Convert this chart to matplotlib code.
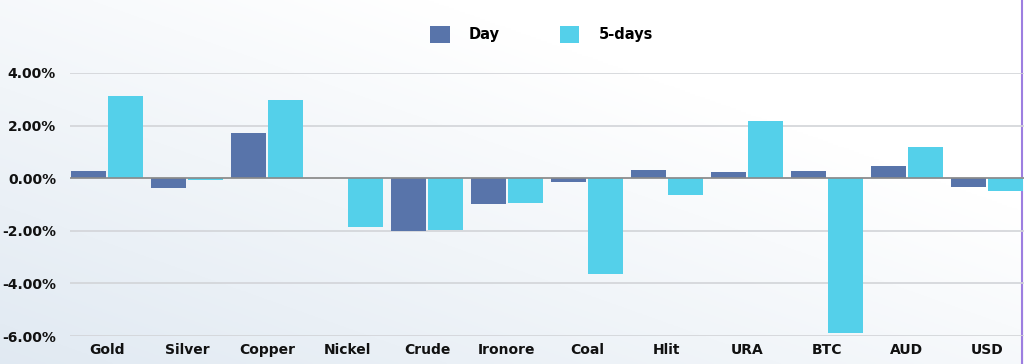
import numpy as np
import matplotlib.pyplot as plt
from matplotlib.ticker import FuncFormatter
from matplotlib.lines import Line2D

categories = ["Gold", "Silver", "Copper", "Nickel", "Crude", "Ironore",
              "Coal", "Hlit", "URA", "BTC", "AUD", "USD"]
day = [0.28, -0.38, 1.70, 0.0, -1.99, -0.98, -0.15, 0.33, 0.23, 0.27, 0.46, -0.33]
five_days = [3.14, -0.08, 2.98, -1.84, -1.97, -0.96, -3.63, -0.65, 2.17, -5.89, 1.20, -0.48]

day_color = "#5874aa"
five_color = "#54d0ea"
font = "DejaVu Sans"

fig = plt.figure(figsize=(10.24, 3.64), dpi=100)

# soft gradient background (bluish bottom-left -> white top-right)
bg = fig.add_axes([0, 0, 1, 1], zorder=-10)
yy, xx = np.mgrid[0:1:200j, 0:1:400j]
t = np.clip((1 - yy) * 0.6 + (1 - xx) * 0.6 - 0.35, 0, 1)
c0 = np.array([1.0, 1.0, 1.0])
c1 = np.array([0.86, 0.90, 0.94])
img = c0 + (c1 - c0) * t[..., None]
bg.imshow(img, extent=[0, 1, 0, 1], aspect="auto", origin="lower")
bg.axis("off")

# purple edge on the right
bg.add_line(Line2D([0.9985, 0.9985], [0, 1], color="#9d7ee0", lw=1.5,
                   transform=bg.transAxes))

ax = fig.add_axes([70 / 1024, 28 / 364, 954 / 1024, 263 / 364])
ax.patch.set_alpha(0)

x = np.arange(len(categories))
w = 0.4375
ax.bar(x - 0.232, day, width=w, color=day_color, label="Day", zorder=3)
ax.bar(x + 0.232, five_days, width=w, color=five_color, label="5-days", zorder=3)

ax.set_xlim(-0.4625, 11.4625)
ax.set_ylim(-6, 4)
ax.set_yticks([-6, -4, -2, 0, 2, 4])
ax.yaxis.set_major_formatter(FuncFormatter(lambda v, p: f"{v:.2f}%"))
ax.set_xticks(x)
ax.set_xticklabels(categories)

for lab in ax.get_xticklabels() + ax.get_yticklabels():
    lab.set_fontfamily(font)
    lab.set_fontweight("bold")
    lab.set_fontsize(10)
    lab.set_color("#111111")

ax.tick_params(axis="both", length=0)
ax.tick_params(axis="y", pad=10)
ax.tick_params(axis="x", pad=5)
ax.grid(axis="y", color="#d2d4d8", lw=1.2, zorder=0)
ax.axhline(0, color="#8a8a8a", lw=1.2, zorder=4)
for s in ax.spines.values():
    s.set_visible(False)

leg = fig.legend(loc="center", ncol=2, frameon=False,
                 handlelength=1.35, handleheight=1.35,
                 columnspacing=4.1, handletextpad=1.3,
                 prop={"family": font, "weight": "bold", "size": 10.5})
leg.set_bbox_to_anchor((541.5 / 1024, 1 - 34.5 / 364), transform=fig.transFigure)

fig.savefig("out.png", dpi=100)
